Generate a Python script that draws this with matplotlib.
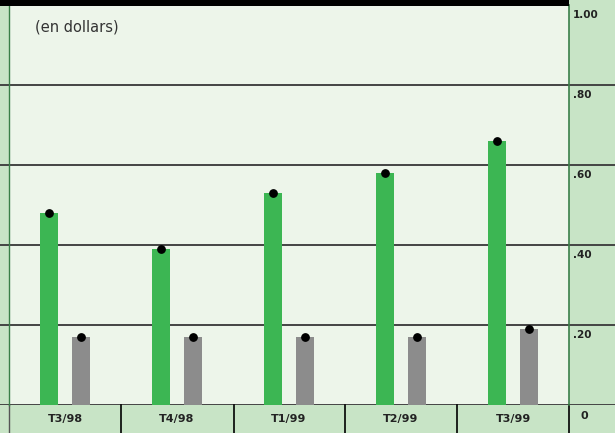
import matplotlib.pyplot as plt
import matplotlib.transforms as mtransforms
from matplotlib.patches import Rectangle

# data
quarters = ['T3/98', 'T4/98', 'T1/99', 'T2/99', 'T3/99']
green_vals = [0.48, 0.39, 0.53, 0.58, 0.66]
gray_vals = [0.17, 0.17, 0.17, 0.17, 0.19]
yticks = [0.20, 0.40, 0.60, 0.80, 1.00]
ytick_labels = ['.20', '.40', '.60', '.80', '1.00']

W, H = 615, 433
fig = plt.figure(figsize=(W / 100, H / 100), dpi=100)
fig.patch.set_facecolor('#c8e4c6')

def fx(px):
    return px / W

def fy(py):
    return 1 - py / H

# plot area
ax = fig.add_axes([fx(9), fy(405), fx(569) - fx(9), fy(5) - fy(405)])
ax.set_facecolor('#edf5ea')
ax.set_xlim(-0.5, len(quarters) - 0.5)
ax.set_ylim(0, 1.0)
for s in ax.spines.values():
    s.set_visible(False)
ax.set_xticks([])
ax.set_yticks([])

# bars + dots
x = list(range(len(quarters)))
off = 0.145
bw = 0.158
xg = [i - off for i in x]
xr = [i + off for i in x]
ax.bar(xg, green_vals, width=bw, color='#3cb653', zorder=3)
ax.bar(xr, gray_vals, width=bw, color='#8c8c8c', zorder=3)
ax.scatter(xg, green_vals, s=28, color='black', zorder=4, clip_on=False)
ax.scatter(xr, gray_vals, s=28, color='black', zorder=4, clip_on=False)

# gridlines across whole width
trans = mtransforms.blended_transform_factory(fig.transFigure, ax.transData)
for v in [0.0] + yticks[:-1]:
    ax.plot([0, 1], [v, v], transform=trans, color='#444444', lw=1.4,
            clip_on=False, zorder=2)

# bottom strip
fig.patches.append(Rectangle((0, 0), 1, fy(405), transform=fig.transFigure,
                             facecolor='#c8e4c6', edgecolor='none', zorder=0))
for b in [121, 234, 345, 457, 569]:
    fig.add_artist(plt.Line2D([fx(b), fx(b)], [0, fy(405)], color='black', lw=1.2))
fig.add_artist(plt.Line2D([fx(9), fx(9)], [0, fy(405)], color='#555555', lw=1.0))
# side dividers
fig.add_artist(plt.Line2D([fx(569), fx(569)], [fy(405), fy(5)], color='#3a7f48', lw=1.2))
fig.add_artist(plt.Line2D([fx(9), fx(9)], [fy(405), fy(5)], color='#3a7f48', lw=1.0))

# category labels
for i, q in enumerate(quarters):
    xf = ax.transData.transform((i, 0))
    xfig = fig.transFigure.inverted().transform(xf)[0]
    fig.text(xfig, fy(419), q, ha='center', va='center', fontsize=8,
             fontweight='semibold', color='#222222')

# y tick labels in right strip
for v, lab in zip(yticks, ytick_labels):
    ax.text(fx(573), v - 0.012, lab, transform=trans,
            ha='left', va='top', fontsize=7.5, fontweight='semibold', color='#222222')
fig.text(fx(584), fy(416), '0', ha='center', va='center', fontsize=8,
         fontweight='semibold', color='#222222')

# top black band
fig.patches.append(Rectangle((0, fy(6)), fx(569), 1 - fy(6), transform=fig.transFigure,
                             facecolor='black', edgecolor='none', zorder=5))

ax.text(fx(35), fy(27), '(en dollars)', transform=fig.transFigure, ha='left',
        va='center', fontsize=10.5, color='#333333')

fig.savefig('out.png', dpi=100, facecolor=fig.get_facecolor())
